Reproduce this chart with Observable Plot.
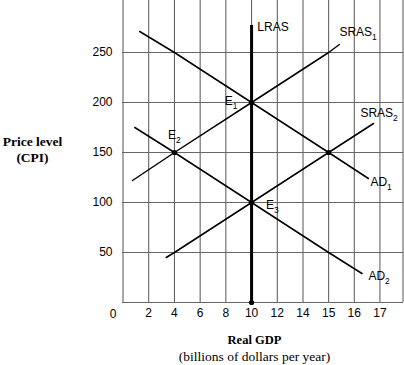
<!DOCTYPE html>
<html><head><meta charset="utf-8">
<script src="https://cdn.jsdelivr.net/npm/d3@7"></script>
<script src="https://cdn.jsdelivr.net/npm/@observablehq/plot@0.6"></script>
<style>body{margin:0;background:#fff}</style>
</head><body><div id="chart"></div>
<script>
// ---- data ----
const xTickValues = [2, 4, 6, 8, 10, 12, 14, 15, 16, 17];
const xGridValues = [0, 2, 4, 6, 8, 10, 12, 14, 15, 16, 17, 17.9];
const yTickValues = [50, 100, 150, 200, 250];
const yGridValues = [0, 50, 100, 150, 200, 250];

const ad1X = [1.3, 4, 10, 15, 16.55];
const ad1Y = [271, 250, 200, 150, 124];
const ad2X = [0.92, 4, 10, 15, 16.3];
const ad2Y = [175, 150, 100, 50, 29];
const sras1X = [0.74, 4, 10, 15, 15.42];
const sras1Y = [122, 150, 200, 250, 258];
const sras2X = [3.36, 4, 10, 15, 16.75];
const sras2Y = [45, 50, 100, 150, 179];
const lrasX = 10;
const lrasTop = 277;

const eqX = [10, 4, 10, 15, 10];
const eqY = [200, 150, 100, 150, 0];

const curveLabels = ["LRAS", "SRAS_1", "SRAS_2", "AD_1", "AD_2", "E_3"];
const curveLabelX = [10.45, 15.42, 16.24, 16.63, 16.55, 11.13];
const curveLabelY = [275, 270, 189, 120, 26, 97];
const e1Label = "E_1", e1X = 8.9, e1Y = 201;
const e2Label = "E_2", e2X = 4, e2Y = 167;

const xTitle = "Real GDP";
const xSubtitle = "(billions of dollars per year)";
const yTitle = ["Price level", "(CPI)"];

// ---- build ----
const curves = [];
[[ad1X, ad1Y, "AD1"], [ad2X, ad2Y, "AD2"], [sras1X, sras1Y, "SRAS1"], [sras2X, sras2Y, "SRAS2"]]
  .forEach(([xs, ys, name]) => xs.forEach((x, i) => curves.push({name, x, y: ys[i]})));
const eq = eqX.map((x, i) => ({x, y: eqY[i]}));
const labels = curveLabels.map((t, i) => ({t, x: curveLabelX[i], y: curveLabelY[i]}));

const sans = "'Liberation Sans', Arial, sans-serif";
const serif = "'Liberation Serif', 'Times New Roman', serif";
const title = (s, cx, cy, size, weight) => Plot.text([s], {
  frameAnchor: "top-left", dx: cx - 122, dy: cy, text: d => d,
  textAnchor: "middle", lineAnchor: "middle",
  fontFamily: serif, fontWeight: weight, fontSize: size, fill: "#000"
});

const chart = Plot.plot({
  width: 404, height: 365,
  marginLeft: 122, marginRight: 1, marginTop: 0, marginBottom: 63,
  style: {fontFamily: sans, fontSize: "12px", background: "#fff", color: "#000"},
  x: {type: "linear", domain: [0, 14, 17.9], range: [122.5, 302.5, 402.5]},
  y: {type: "linear", domain: [0, 300], range: [302, 2]},
  marks: [
    Plot.ruleX(xGridValues, {stroke: "#555", strokeWidth: 1}),
    Plot.ruleY(yGridValues, {stroke: "#666", strokeWidth: 1}),
    Plot.line(curves, {x: "x", y: "y", z: "name", stroke: "#000", strokeWidth: 1.5}),
    Plot.ruleX([lrasX], {y1: 0, y2: lrasTop, stroke: "#000", strokeWidth: 3}),
    Plot.dot(eq, {x: "x", y: "y", r: 2.6, fill: "#000"}),
    Plot.text(labels, {x: "x", y: "y", text: "t", textAnchor: "start", fontSize: 12, fill: "#000"}),
    Plot.text([e1Label], {x: () => e1X, y: () => e1Y, text: d => d, textAnchor: "end", fontSize: 12, fill: "#000"}),
    Plot.text([e2Label], {x: () => e2X, y: () => e2Y, text: d => d, textAnchor: "middle", fontSize: 12, fill: "#000"}),
    Plot.axisX(xTickValues, {tickSize: 0, tickPadding: 6, fontSize: 12, label: null, fill: "#000"}),
    Plot.text([0], {x: d => d, y: () => 0, dx: -10, dy: 12, text: d => String(d), fontSize: 12, fill: "#000"}),
    Plot.axisY(yTickValues, {tickSize: 0, tickPadding: 10, fontSize: 12, label: null, fill: "#000"}),
    title(xTitle, 254, 339, 12.5, "bold"),
    title(xSubtitle, 254, 356, 13.5, "normal"),
    title(yTitle[0], 32, 141.5, 13.5, "bold"),
    title(yTitle[1], 32, 157.5, 13.5, "bold")
  ]
});

// subscripts: "NAME_n" -> NAME + lowered small n
chart.querySelectorAll("text").forEach(el => {
  const m = /^(.*)_(\d)$/.exec(el.textContent);
  if (!m) return;
  el.textContent = m[1];
  const ts = document.createElementNS("http://www.w3.org/2000/svg", "tspan");
  ts.setAttribute("font-size", "8.5");
  ts.setAttribute("dy", "4");
  ts.textContent = m[2];
  el.appendChild(ts);
});
document.getElementById("chart").appendChild(chart);
</script>
</body></html>
